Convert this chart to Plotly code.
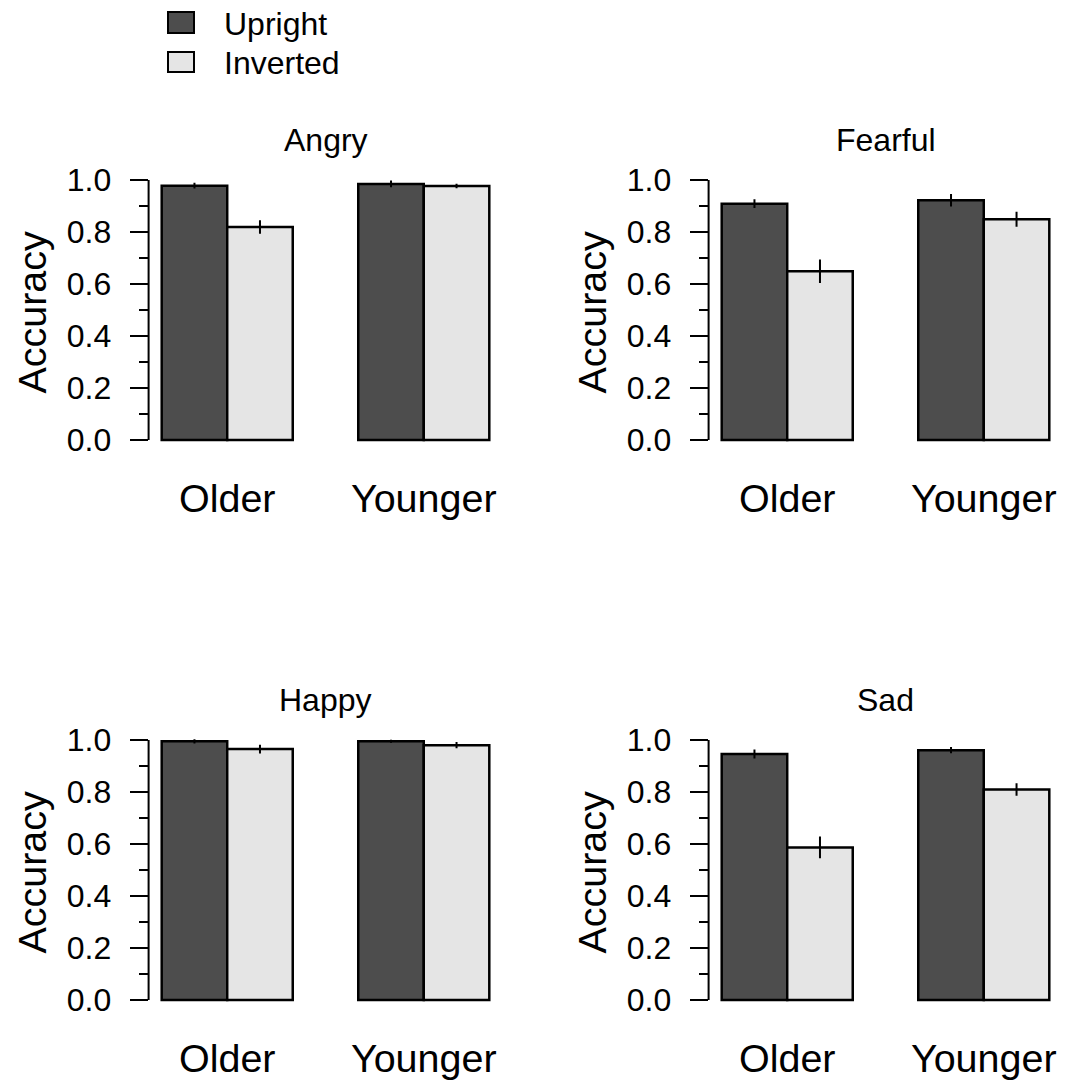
import plotly.graph_objects as go

# Accuracy by age group and face orientation, one panel per emotion
groups = ["Older", "Younger"]
emotions = ["Angry", "Fearful", "Happy", "Sad"]

angry_upright = [0.978, 0.985]
angry_inverted = [0.819, 0.977]
angry_upright_se = [0.011, 0.013]
angry_inverted_se = [0.026, 0.009]

fearful_upright = [0.909, 0.922]
fearful_inverted = [0.649, 0.849]
fearful_upright_se = [0.017, 0.024]
fearful_inverted_se = [0.045, 0.029]

happy_upright = [0.995, 0.995]
happy_inverted = [0.965, 0.980]
happy_upright_se = [0.008, 0.006]
happy_inverted_se = [0.017, 0.012]

sad_upright = [0.946, 0.961]
sad_inverted = [0.587, 0.810]
sad_upright_se = [0.017, 0.012]
sad_inverted_se = [0.042, 0.024]

y_ticks = [0.0, 0.2, 0.4, 0.6, 0.8, 1.0]
y_minor = [0.1, 0.3, 0.5, 0.7, 0.9]

panel_data = [
    (angry_upright, angry_upright_se, angry_inverted, angry_inverted_se),
    (fearful_upright, fearful_upright_se, fearful_inverted, fearful_inverted_se),
    (happy_upright, happy_upright_se, happy_inverted, happy_inverted_se),
    (sad_upright, sad_upright_se, sad_inverted, sad_inverted_se),
]

W, H = 1065, 1083
UPRIGHT_COL = "#4D4D4D"
INVERTED_COL = "#E5E5E5"
FONT = "Liberation Sans, Arial, sans-serif"
SMALL = 32
LARGE = 39.5


def px_x(p):
    return p / W


def px_y(p):
    return 1 - p / H


# panel placement (pixels): left edges and the pixel rows of y=0
col_left = [148.6, 708.6]
col_width = 353.8
row_zero = [440.0, 1000.0]
unit = 260.0  # pixels per 1.0 of accuracy
y_lo, y_hi = -0.04, 1.04

fig = go.Figure()
layout = dict()
annotations = []
shapes = []

for i, emo in enumerate(emotions):
    r, c = divmod(i, 2)
    n = "" if i == 0 else str(i + 1)
    xa, ya = "x" + n, "y" + n
    up, up_se, inv, inv_se = panel_data[i]

    fig.add_trace(go.Bar(
        x=groups, y=up, name="Upright", xaxis=xa, yaxis=ya,
        marker=dict(color=UPRIGHT_COL, line=dict(color="black", width=2.5)),
        error_y=dict(type="data", array=up_se, color="black", thickness=2, width=0),
        showlegend=False,
    ))
    fig.add_trace(go.Bar(
        x=groups, y=inv, name="Inverted", xaxis=xa, yaxis=ya,
        marker=dict(color=INVERTED_COL, line=dict(color="black", width=2.5)),
        error_y=dict(type="data", array=inv_se, color="black", thickness=2, width=0),
        showlegend=False,
    ))

    x0 = col_left[c]
    x1 = x0 + col_width
    ytop = row_zero[r] - (y_hi - 0) * unit
    ybot = row_zero[r] + (0 - y_lo) * unit

    layout["xaxis" + n] = dict(
        domain=[px_x(x0), px_x(x1)], anchor=ya,
        type="category", range=[-0.4, 1.4],
        showline=False, showgrid=False, zeroline=False, ticks="",
        tickfont=dict(size=LARGE, color="black", family=FONT),
        ticklabelstandoff=21, automargin=False,
    )
    layout["yaxis" + n] = dict(
        domain=[px_y(ybot), px_y(ytop)], anchor=xa,
        range=[y_lo, y_hi],
        showline=False, showgrid=False, zeroline=False,
        tickmode="array", tickvals=y_ticks,
        ticktext=[f"{v:.1f}" for v in y_ticks],
        ticks="outside", ticklen=18, tickwidth=2, tickcolor="black",
        minor=dict(tickmode="array", tickvals=y_minor, ticks="outside",
                   ticklen=9, tickwidth=2, tickcolor="black"),
        tickfont=dict(size=SMALL, color="black", family=FONT),
        ticklabelstandoff=12, automargin=False,
    )

    # y axis line spanning 0..1
    shapes.append(dict(
        type="line", xref=xa + " domain", yref=ya,
        x0=0, x1=0, y0=0, y1=1,
        line=dict(color="black", width=2),
    ))

    # panel title
    annotations.append(dict(
        text=emo, xref="paper", yref="paper",
        x=px_x((x0 + x1) / 2), y=px_y(row_zero[r] - 300),
        xanchor="center", yanchor="middle", showarrow=False,
        font=dict(size=SMALL, color="black", family=FONT),
    ))
    # y axis title
    annotations.append(dict(
        text="Accuracy", xref="paper", yref="paper",
        x=px_x(x0 - 117), y=px_y(row_zero[r] - 128),
        xanchor="center", yanchor="middle", textangle=-90, showarrow=False,
        font=dict(size=LARGE, color="black", family=FONT),
    ))

# legend
legend_items = [("Upright", UPRIGHT_COL, 12, 33), ("Inverted", INVERTED_COL, 52, 72)]
for label, col, t, b in legend_items:
    shapes.append(dict(
        type="rect", xref="paper", yref="paper",
        x0=px_x(168), x1=px_x(194), y0=px_y(b), y1=px_y(t),
        fillcolor=col, line=dict(color="black", width=2),
    ))
    annotations.append(dict(
        text=label, xref="paper", yref="paper",
        x=px_x(222), y=px_y((t + b) / 2 + 1),
        xanchor="left", yanchor="middle", showarrow=False,
        font=dict(size=SMALL, color="black", family=FONT),
    ))

fig.update_layout(
    width=W, height=H,
    margin=dict(l=0, r=0, t=0, b=0, pad=0, autoexpand=False),
    paper_bgcolor="white", plot_bgcolor="white",
    barmode="group", bargap=1 / 3, bargroupgap=0,
    showlegend=False,
    annotations=annotations, shapes=shapes,
    **layout,
)

fig.write_html("out.html")
